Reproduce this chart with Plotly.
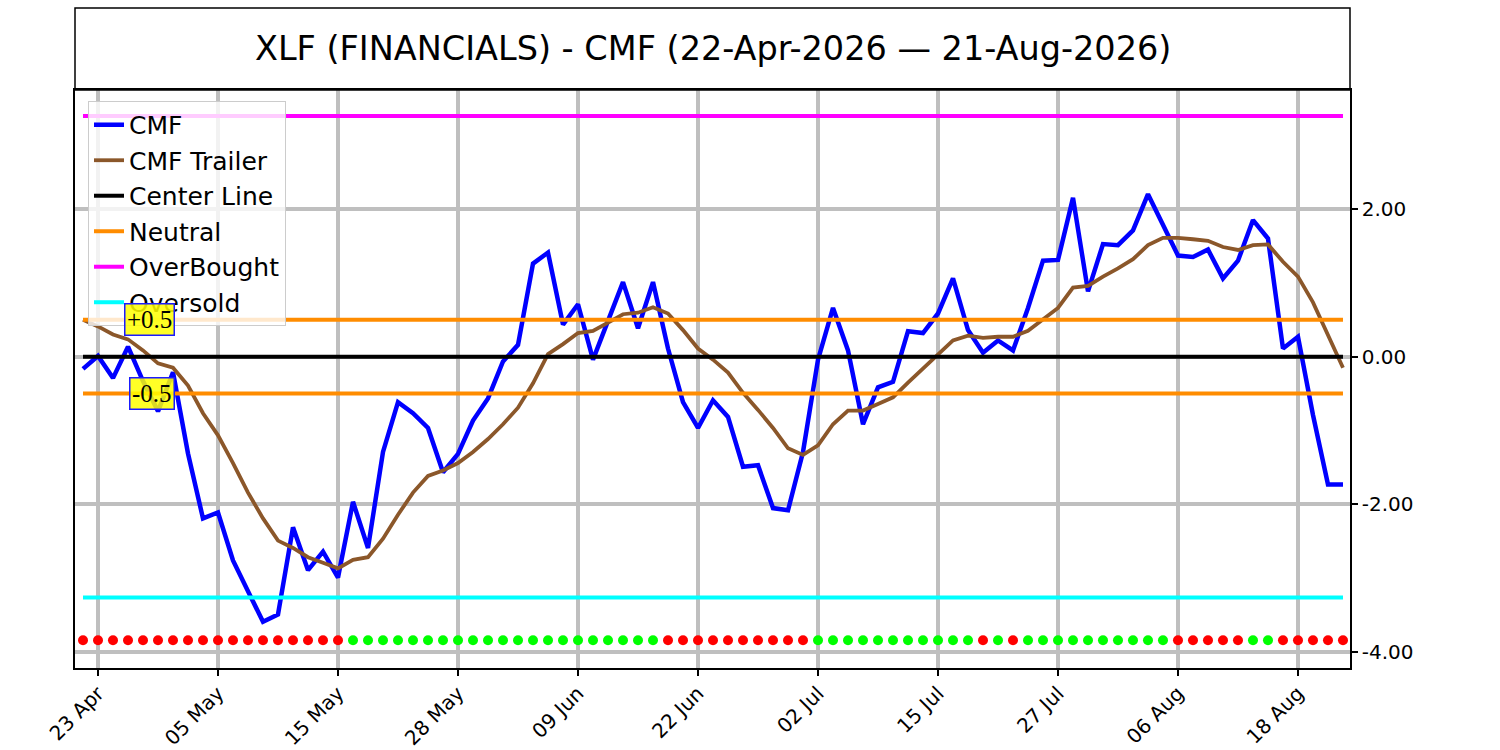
import pandas as pd
import plotly.graph_objects as go

# ---------------- data ----------------
holidays = ["2026-05-25", "2026-06-19", "2026-07-03"]
dates = [d.strftime("%Y-%m-%d") for d in pd.bdate_range("2026-04-22", "2026-08-21")
         if d.strftime("%Y-%m-%d") not in holidays]

cmf = [-0.165, 0.01, -0.29, 0.135, -0.33, -0.74, -0.21, -1.31, -2.19, -2.11,
       -2.76, -3.19, -3.59, -3.49, -2.31, -2.89, -2.64, -2.99, -1.965, -2.59,
       -1.29, -0.615, -0.765, -0.965, -1.565, -1.315, -0.865, -0.565, -0.065, 0.16,
       1.26, 1.41, 0.435, 0.71, -0.04, 0.485, 1.01, 0.385, 1.01, 0.11,
       -0.615, -0.965, -0.59, -0.815, -1.49, -1.47, -2.05, -2.08, -1.29, -0.04,
       0.66, 0.085, -0.915, -0.415, -0.34, 0.345, 0.32, 0.585, 1.06, 0.36,
       0.055, 0.22, 0.085, 0.66, 1.3, 1.31, 2.15, 0.885, 1.525, 1.51,
       1.71, 2.2, 1.785, 1.37, 1.35, 1.45, 1.06, 1.3, 1.85, 1.6,
       0.11, 0.27, -0.79, -1.73, -1.73]

cmf_trailer = [0.5, 0.41, 0.30, 0.235, 0.085, -0.09, -0.15, -0.39, -0.765, -1.065,
               -1.44, -1.84, -2.19, -2.49, -2.59, -2.715, -2.79, -2.865, -2.75, -2.715,
               -2.465, -2.14, -1.84, -1.615, -1.54, -1.44, -1.29, -1.115, -0.915, -0.69,
               -0.36, 0.035, 0.17, 0.32, 0.35, 0.46, 0.575, 0.595, 0.67, 0.585,
               0.36, 0.11, -0.04, -0.215, -0.49, -0.72, -0.965, -1.24, -1.33, -1.2,
               -0.915, -0.73, -0.73, -0.64, -0.55, -0.35, -0.165, 0.02, 0.22, 0.285,
               0.255, 0.27, 0.27, 0.35, 0.51, 0.66, 0.935, 0.96, 1.085, 1.195,
               1.32, 1.51, 1.61, 1.61, 1.59, 1.57, 1.485, 1.445, 1.51, 1.52,
               1.285, 1.085, 0.735, 0.285, -0.15]

# 1 = bullish (green), 0 = bearish (red)
signal = ([0] * 18 + [1] * 21 + [0] * 10 + [1] * 11 + [0] + [1] + [0]
          + [1] * 10 + [0] * 5 + [1] * 2 + [0] * 5)

center_level = 0.0
neutral_levels = [0.5, -0.5]
overbought_level = 3.26
oversold_level = -3.26
signal_row_level = -3.84

tick_dates = ["2026-04-23", "2026-05-05", "2026-05-15", "2026-05-28", "2026-06-09",
              "2026-06-22", "2026-07-02", "2026-07-15", "2026-07-27", "2026-08-06",
              "2026-08-18"]
tick_labels = ["23 Apr", "05 May", "15 May", "28 May", "09 Jun", "22 Jun",
               "02 Jul", "15 Jul", "27 Jul", "06 Aug", "18 Aug"]

y_tickvals = [-4, -2, 0, 2]
y_ticktext = ["-4.00", "-2.00", "0.00", "2.00"]

title_text = "XLF (FINANCIALS) - CMF (22-Apr-2026 \u2014 21-Aug-2026)"

assert len(dates) == len(cmf) == len(cmf_trailer) == len(signal) == 85

# ---------------- figure ----------------
fig = go.Figure()
first, last = dates[0], dates[-1]

fig.add_trace(go.Scatter(x=dates, y=cmf, mode="lines", name="CMF", legendgroup="a",
                         line=dict(color="#0000ff", width=4.5)))
fig.add_trace(go.Scatter(x=dates, y=cmf_trailer, mode="lines", name="CMF Trailer",
                         legendgroup="b", line=dict(color="#8b572a", width=3.8)))
fig.add_trace(go.Scatter(x=[first, last], y=[center_level] * 2, mode="lines",
                         name="Center Line", legendgroup="c",
                         line=dict(color="#000000", width=4)))
fig.add_trace(go.Scatter(x=[first, last, None, first, last],
                         y=[neutral_levels[0]] * 2 + [None] + [neutral_levels[1]] * 2,
                         mode="lines", name="Neutral", legendgroup="d",
                         line=dict(color="#ff8c00", width=4)))
fig.add_trace(go.Scatter(x=[first, last], y=[overbought_level] * 2, mode="lines",
                         name="OverBought", legendgroup="e",
                         line=dict(color="#ff00ff", width=4)))
fig.add_trace(go.Scatter(x=[first, last], y=[oversold_level] * 2, mode="lines",
                         name="Oversold", legendgroup="f",
                         line=dict(color="#00ffff", width=4)))
fig.add_trace(go.Scatter(x=dates, y=[signal_row_level] * len(dates), mode="markers",
                         showlegend=False, hoverinfo="skip",
                         marker=dict(size=10, color=["#00ff00" if s else "#ff0000" for s in signal],
                                     line=dict(width=0))))

PLOT_H = 578
fig.add_shape(type="rect", xref="paper", yref="paper", x0=0, x1=1, y0=1,
              y1=1 + 82 / PLOT_H, line=dict(color="black", width=1.5), layer="above")
fig.add_annotation(text=title_text, xref="paper", yref="paper", x=0.5,
                   y=1 + 41 / PLOT_H, xanchor="center", yanchor="middle", showarrow=False,
                   font=dict(family="DejaVu Sans", size=33.5, color="black"))

for txt, xpos, yv in [("+0.5", 4.43, neutral_levels[0]), ("-0.5", 4.6, neutral_levels[1])]:
    fig.add_annotation(text=txt, x=xpos, y=yv, xref="x", yref="y", showarrow=False,
                       xanchor="center", yanchor="middle",
                       font=dict(family="Liberation Serif", size=25, color="black"),
                       bgcolor="rgba(255,255,0,0.85)", bordercolor="#1a1aff",
                       borderwidth=1.5, borderpad=1.5)

fig.update_layout(
    width=1500, height=750,
    margin=dict(l=75, r=150, t=90, b=82, autoexpand=False),
    paper_bgcolor="white", plot_bgcolor="white",
    font=dict(family="DejaVu Sans", color="black"),
    showlegend=True,
    legend=dict(x=0.0102, y=0.981, xanchor="left", yanchor="top",
                bgcolor="rgba(255,255,255,0.8)", bordercolor="#cccccc", borderwidth=1,
                font=dict(family="DejaVu Sans", size=25, color="black"),
                tracegroupgap=0, itemwidth=30),
    xaxis=dict(type="category", range=[-0.533, 84.467], tickmode="array",
               tickvals=tick_dates, ticktext=tick_labels, tickangle=-45,
               tickfont=dict(size=20, family="DejaVu Sans"),
               showgrid=True, gridcolor="#bfbfbf", gridwidth=3.5,
               showline=True, linecolor="black", linewidth=1.5, mirror=True,
               ticks="outside", ticklen=6, tickwidth=1.5, tickcolor="black",
               ticklabelstandoff=-2, zeroline=False),
    yaxis=dict(side="right", range=[-4.215, 3.611], tickmode="array",
               tickvals=y_tickvals, ticktext=y_ticktext,
               tickfont=dict(size=20, family="DejaVu Sans"),
               showgrid=True, gridcolor="#bfbfbf", gridwidth=3.5,
               showline=True, linecolor="black", linewidth=1.5, mirror=True,
               ticks="outside", ticklen=6, tickwidth=1.5, tickcolor="black",
               zeroline=False),
)

fig.write_html("out.html", config={"displayModeBar": False},
               post_script="document.body.style.margin='0';document.body.style.padding='0';")
